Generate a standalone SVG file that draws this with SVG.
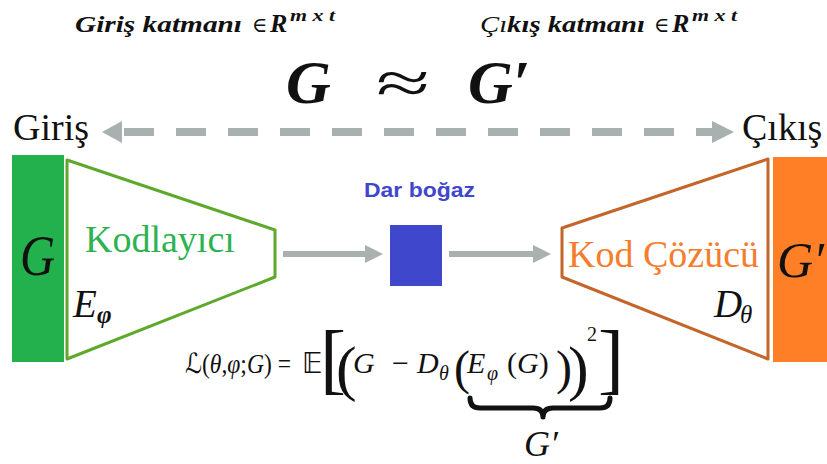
<svg xmlns="http://www.w3.org/2000/svg" width="827" height="464" viewBox="0 0 827 464">
<defs>
<style>
.serif{font-family:"Liberation Serif","DejaVu Serif",serif;}
.math{font-family:"Liberation Serif","DejaVu Serif","DejaVu Sans",serif;font-style:italic;fill:#111;}
.up{font-style:normal;}
.bi{font-family:"Liberation Serif","DejaVu Serif",serif;font-style:italic;font-weight:bold;fill:#111;}
.gray{fill:#a9b1b0;}
</style>
</defs>
<rect width="827" height="464" fill="#ffffff"/>

<!-- top labels -->
<g id="top-left-label">
<text class="bi" x="75" y="32" font-size="24" textLength="167" lengthAdjust="spacingAndGlyphs">Giriş katmanı</text>
<text class="serif" x="252" y="32" font-size="21" fill="#111">∈</text>
<text class="bi" x="270" y="32" font-size="26">R</text>
<text class="bi" x="290" y="21" font-size="16" textLength="45" lengthAdjust="spacingAndGlyphs">m x t</text>
</g>
<g id="top-right-label">
<text class="bi" x="480" y="32" font-size="24" textLength="165" lengthAdjust="spacingAndGlyphs"><tspan font-weight="normal">Çı</tspan>kış katmanı</text>
<text class="serif" x="654" y="32" font-size="21" fill="#111">∈</text>
<text class="bi" x="672" y="32" font-size="26">R</text>
<text class="bi" x="692" y="21" font-size="16" textLength="45" lengthAdjust="spacingAndGlyphs">m x t</text>
</g>
<g id="approx">
<text class="math" x="286" y="103" font-size="62" font-weight="bold">G</text>
<text class="serif" x="376" y="103" font-size="60" fill="#111" textLength="54" lengthAdjust="spacingAndGlyphs">≈</text>
<text class="math" x="468" y="103" font-size="62" font-weight="bold">G′</text>
</g>

<!-- connectors -->
<g id="connectors">
<line x1="124" y1="132" x2="712" y2="132" stroke="#a9b1b0" stroke-width="8" stroke-dasharray="30 22"/>
<polygon class="gray" points="102,132 122,121 122,143"/>
<polygon class="gray" points="734,132 712,121 712,143"/>
<line x1="283" y1="254" x2="368" y2="254" stroke="#a9b1b0" stroke-width="6"/>
<polygon class="gray" points="383,254 365,245 365,263"/>
<line x1="449" y1="254" x2="536" y2="254" stroke="#a9b1b0" stroke-width="6"/>
<polygon class="gray" points="551,254 533,245 533,263"/>
</g>

<g id="input">
<text class="serif" x="13" y="140" font-size="38" fill="#111">Giriş</text>
<rect x="12" y="155" width="52" height="207" fill="#22b14c"/>
<text class="math" x="20" y="275" font-size="56" textLength="35" lengthAdjust="spacingAndGlyphs">G</text>
</g>

<g id="encoder">
<polygon points="67,160 275,230 275,277 67,359" fill="#ffffff" stroke="#5ea82c" stroke-width="3" stroke-linejoin="round"/>
<text class="serif" x="85" y="252" font-size="38" fill="#2db24f">Kodlayıcı</text>
<text class="math" x="73" y="317" font-size="39">E</text>
<text class="math" x="97" y="323" font-size="25" font-weight="bold">φ</text>
</g>

<g id="bottleneck">
<text x="364" y="197" font-family="'Liberation Sans','DejaVu Sans',sans-serif" font-weight="bold" font-size="21" fill="#3f48cc" textLength="111" lengthAdjust="spacingAndGlyphs">Dar boğaz</text>
<rect x="390" y="225" width="52" height="61" fill="#3f48cc"/>
</g>

<g id="decoder">
<polygon points="562,228 768,159 768,359 562,277" fill="#ffffff" stroke="#c4652a" stroke-width="3" stroke-linejoin="round"/>
<text class="serif" x="568" y="267" font-size="38" fill="#f47d2e">Kod Çözücü</text>
<text class="math" x="714" y="317" font-size="39">D</text>
<text class="math" x="740" y="323" font-size="25">θ</text>
</g>

<g id="output">
<text class="serif" x="742" y="140" font-size="38" fill="#111">Çıkış</text>
<rect x="773" y="157" width="54" height="205" fill="#ff7f27"/>
<text class="math" x="777" y="277" font-size="50">G′</text>
</g>

<g id="loss">
<text class="math" x="185" y="373" font-size="28" textLength="106" lengthAdjust="spacingAndGlyphs">ℒ<tspan class="up">(</tspan>θ<tspan class="up">,</tspan>φ<tspan class="up">;</tspan>G<tspan class="up">)</tspan><tspan class="up"> =</tspan></text>
<text x="302" y="373" font-size="28" font-family="'DejaVu Sans',sans-serif" fill="#111">𝔼</text>
<text class="serif" x="320" y="385" font-size="78" fill="#111">[</text>
<text class="serif" x="336" y="389" font-size="62" fill="#111">(</text>
<text class="math" x="353" y="373" font-size="30">G</text>
<text class="serif" x="392" y="373" font-size="30" fill="#111">−</text>
<text class="math" x="417" y="373" font-size="30">D</text>
<text class="math" x="439" y="380" font-size="20">θ</text>
<text class="serif" x="454" y="384" font-size="48" fill="#111">(</text>
<text class="math" x="467" y="373" font-size="30">E</text>
<text class="math" x="487" y="380" font-size="20">φ</text>
<text class="math" x="507" y="373" font-size="30"><tspan class="up">(</tspan>G<tspan class="up">)</tspan></text>
<text class="serif" x="556" y="384" font-size="48" fill="#111">)</text>
<text class="serif" x="568" y="389" font-size="62" fill="#111">)</text>
<text class="serif" x="587" y="341" font-size="20" fill="#111">2</text>
<text class="serif" x="598" y="385" font-size="78" fill="#111">]</text>
<path d="M470,398 Q470,408 480,408 L533,408 Q543,408 543,417 Q543,408 553,408 L600,408 Q610,408 610,398" fill="none" stroke="#111" stroke-width="5" stroke-linecap="round" stroke-linejoin="round"/>
<text class="math" x="524" y="456" font-size="36">G′</text>
</g>
</svg>
